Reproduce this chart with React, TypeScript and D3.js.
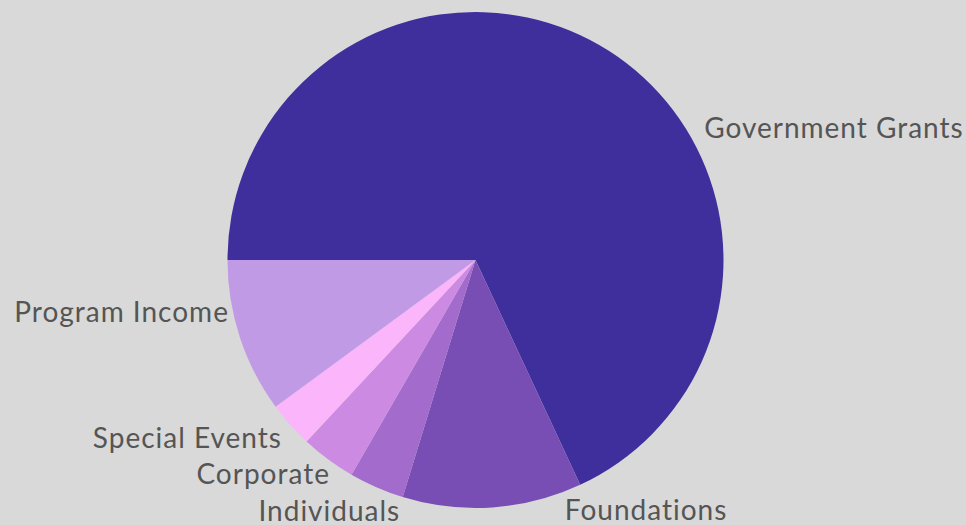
import React from "react";
import * as d3 from "d3";

const categories = ["Government Grants", "Foundations", "Individuals", "Corporate", "Special Events", "Program Income"];
const values = [68.2, 11.7, 3.6, 3.6, 3.0, 10.1];
const colors = ["#3f2f9c", "#784db4", "#a26bcc", "#cd8ae2", "#fbb5fb", "#c19ae5"];

// label layout: angle (deg, clockwise from 12 o'clock) and distance beyond the rim
const labelAngles = [60, 160.3, 196.7, 214.2, 227.4, 258.1];
const labelGap = [16, 17, 14, 11, 15, 4];

const W = 966;
const H = 525;

export default function App() {
  const cx = 475.5;
  const cy = 260;
  const r = 248;
  const pie = d3
    .pie<number>()
    .sort(null)
    .startAngle(-Math.PI / 2)
    .endAngle((3 * Math.PI) / 2);
  const arcs = pie(values);
  const arc = d3.arc<d3.PieArcDatum<number>>().innerRadius(0).outerRadius(r);

  return (
    <div style={{ position: "fixed", left: 0, top: 0, width: W, height: H, background: "#d9d9d9" }}>
      <svg width={W} height={H} style={{ display: "block" }}>
        <rect width={W} height={H} fill="#d9d9d9" />
        <g transform={`translate(${cx},${cy})`}>
          {arcs.map((a, i) => (
            <path key={i} d={arc(a) || ""} fill={colors[i]} />
          ))}
          {arcs.map((a, i) => {
            const ang = (labelAngles[i] * Math.PI) / 180;
            const rr = r + labelGap[i];
            const x = Math.sin(ang) * rr;
            const y = -Math.cos(ang) * rr;
            const anchor = x >= 0 ? "start" : "end";
            return (
              <text
                key={"l" + i}
                x={x}
                y={y}
                dy="0.36em"
                textAnchor={anchor}
                fill="#555555"
                style={{ fontFamily: "Lato, 'Noto Sans', sans-serif", fontSize: 28, letterSpacing: 1 }}
              >
                {categories[i]}
              </text>
            );
          })}
        </g>
      </svg>
    </div>
  );
}
